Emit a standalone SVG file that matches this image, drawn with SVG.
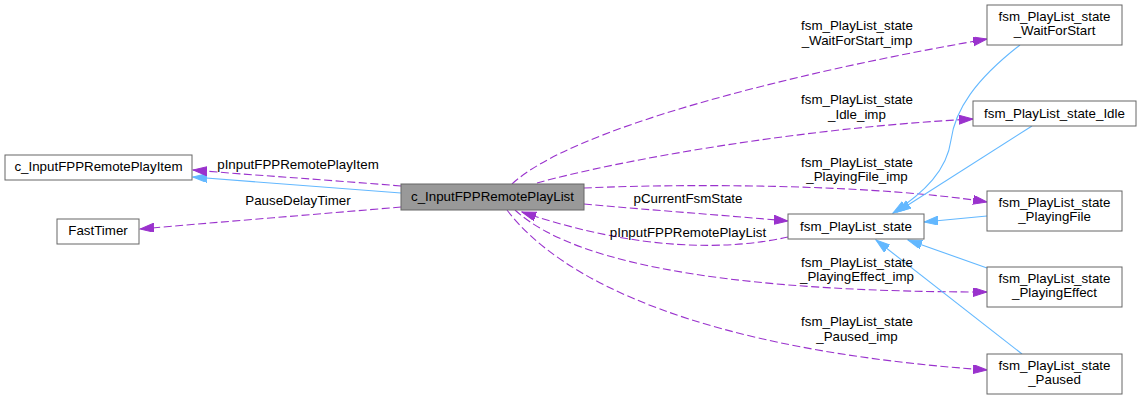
<svg xmlns="http://www.w3.org/2000/svg" width="1141" height="400" viewBox="0 0 1141 400">
<style>
text{font-family:"Liberation Sans",Arial,Helvetica,sans-serif;font-size:13.33px;fill:#000}
.n rect{fill:#fff;stroke:#666;stroke-width:1}
.n text{text-anchor:middle}
.rel{fill:none;stroke:#9a32cd;stroke-width:1.1;stroke-dasharray:8,3.5;marker-end:url(#ap)}
.inh{fill:none;stroke:#63b8ff;stroke-width:1.1;marker-end:url(#ab)}
.lbl{text-anchor:middle}
</style>
<defs>
<marker id="ap" markerUnits="userSpaceOnUse" markerWidth="15" markerHeight="10" refX="14" refY="4.5" orient="auto"><path d="M0,0 L14,4.5 L0,9 z" fill="#9a32cd" stroke="#9a32cd" stroke-width="1"/></marker>
<marker id="ab" markerUnits="userSpaceOnUse" markerWidth="15" markerHeight="10" refX="14" refY="4.5" orient="auto"><path d="M0,0 L14,4.5 L0,9 z" fill="#63b8ff" stroke="#63b8ff" stroke-width="1"/></marker>
</defs>
<rect width="1141" height="400" fill="#fff"/>
<g id="edges">
<path class="inh" d="M401,193 C330,187 260,182 193,177"/>
<path class="rel" d="M401,186 C330,180 250,175 193,170"/>
<path class="rel" d="M401,207 C320,214 220,222 140,229"/>
<path class="rel" d="M584,204 C650,210 720,215 788,221"/>
<path class="rel" d="M788,237 C730,250 640,252 522,212"/>
<path class="rel" d="M512,184 C570,130 780,75 987,39"/>
<path class="rel" d="M537,183 C620,160 800,128 973,119"/>
<path class="rel" d="M584,188 C700,183 880,185 987,202"/>
<path class="rel" d="M515,210 C580,270 760,292 987,292"/>
<path class="rel" d="M507,210 C560,280 700,350 987,370"/>
<path class="inh" d="M1020,45 C975,80 955,110 951,140 C947,170 925,192 893,213"/>
<path class="inh" d="M1032,126 L897,212"/>
<path class="inh" d="M987,216 L924,222"/>
<path class="inh" d="M987,268 L908,240"/>
<path class="inh" d="M1022,354 L876,240"/>
<text class="lbl" x="298" y="169">pInputFPPRemotePlayItem</text>
<text class="lbl" x="298" y="205">PauseDelayTimer</text>
<text class="lbl" x="688" y="203">pCurrentFsmState</text>
<text class="lbl" x="688" y="237">pInputFPPRemotePlayList</text>
<text class="lbl" x="857" y="30">fsm_PlayList_state</text>
<text class="lbl" x="857" y="44.5">_WaitForStart_imp</text>
<text class="lbl" x="857" y="104">fsm_PlayList_state</text>
<text class="lbl" x="857" y="118.5">_Idle_imp</text>
<text class="lbl" x="857" y="166.5">fsm_PlayList_state</text>
<text class="lbl" x="857" y="181">_PlayingFile_imp</text>
<text class="lbl" x="857" y="266.5">fsm_PlayList_state</text>
<text class="lbl" x="857" y="281">_PlayingEffect_imp</text>
<text class="lbl" x="857" y="326">fsm_PlayList_state</text>
<text class="lbl" x="857" y="340.5">_Paused_imp</text>
</g>
<g id="node_main" class="n"><rect x="401" y="184" width="183" height="26" style="fill:#999"/><text x="492.5" y="201">c_InputFPPRemotePlayList</text></g>
<g id="node_item" class="n"><rect x="5" y="155" width="187" height="25"/><text x="98.5" y="171">c_InputFPPRemotePlayItem</text></g>
<g id="node_timer" class="n"><rect x="57" y="219" width="82" height="25"/><text x="98" y="235">FastTimer</text></g>
<g id="node_state" class="n"><rect x="788" y="214" width="136" height="25"/><text x="856" y="230.5">fsm_PlayList_state</text></g>
<g id="node_wait" class="n"><rect x="987" y="5" width="135" height="40"/><text x="1054.5" y="20.5">fsm_PlayList_state</text><text x="1054.5" y="35">_WaitForStart</text></g>
<g id="node_idle" class="n"><rect x="973" y="101" width="163" height="25"/><text x="1054.5" y="117.5">fsm_PlayList_state_Idle</text></g>
<g id="node_file" class="n"><rect x="987" y="191" width="135" height="40"/><text x="1054.5" y="206.5">fsm_PlayList_state</text><text x="1054.5" y="221">_PlayingFile</text></g>
<g id="node_effect" class="n"><rect x="987" y="267" width="135" height="40"/><text x="1054.5" y="282.5">fsm_PlayList_state</text><text x="1054.5" y="297">_PlayingEffect</text></g>
<g id="node_paused" class="n"><rect x="987" y="354" width="135" height="40"/><text x="1054.5" y="369.5">fsm_PlayList_state</text><text x="1054.5" y="384">_Paused</text></g>
</svg>
